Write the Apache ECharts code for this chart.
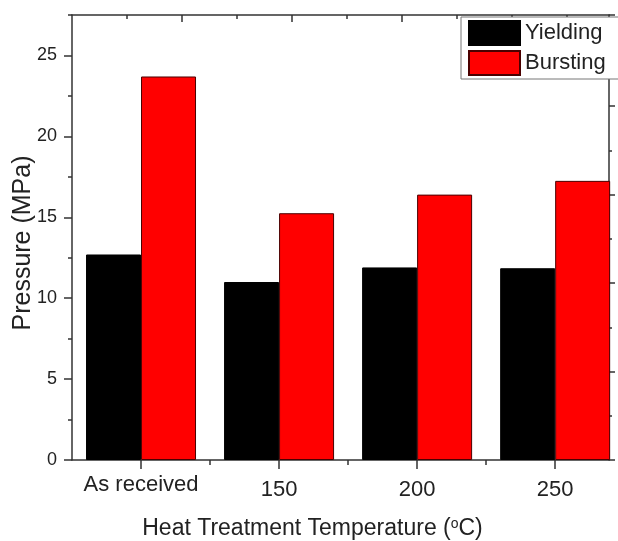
<!DOCTYPE html>
<html>
<head>
<meta charset="utf-8">
<title>Pressure vs heat treatment temperature</title>
<script src="https://cdn.jsdelivr.net/npm/echarts@6/dist/echarts.min.js"></script>
<style>
  html, body { margin: 0; padding: 0; background: #fff; }
  #chart { width: 618px; height: 541px; }
</style>
</head>
<body>
<div id="chart"></div>
<script>
// values (MPa)
const categories = ['As received', '150', '200', '250'];
const yielding = [12.7, 11.0, 11.9, 11.85];
const bursting = [23.7, 15.25, 16.4, 17.25];
const yTicks = [0, 5, 10, 15, 20, 25];

const font = '"Liberation Sans", Arial, sans-serif';
const ink = '#222';

// category i sits at x = i + 1 on the value axis
const positions = categories.map((c, i) => i + 1);
const betweenTicks = positions.slice(0, -1).map(p => p + 0.5);
const yMinorTicks = yTicks.map(v => v + 2.5);
// the top frame axis has no labels, only alternating ticks
const topLong = [1, 2, 3, 4];
const topShort = [0.5, 1.5, 2.5, 3.5, 4.5];

const line = { show: true, onZero: false, lineStyle: { color: '#333', width: 1.5 } };
const noLabel = { show: false };

const chart = echarts.init(document.getElementById('chart'));

chart.setOption({
  animation: false,
  textStyle: { fontFamily: font },
  grid: { left: 72, top: 15, width: 537, height: 445, containLabel: false, outerBoundsMode: 'none' },
  legend: {
    data: ['Yielding', 'Bursting'],
    orient: 'vertical',
    left: 461,
    top: 17,
    icon: 'rect',
    itemWidth: 51,
    itemHeight: 24,
    itemGap: 4,
    padding: [3, 30, 3, 7],
    backgroundColor: '#fff',
    borderColor: '#777',
    borderWidth: 1,
    textStyle: { fontSize: 22, color: ink, fontFamily: font }
  },
  xAxis: [
    {
      type: 'value',
      position: 'bottom',
      min: 0.5,
      max: 4.39,
      axisLine: line,
      splitLine: { show: false },
      axisTick: { customValues: positions, length: 9, lineStyle: { color: '#333', width: 1.5 } },
      axisLabel: {
        customValues: positions,
        // the numeric labels sit a little lower than "As received" in the figure
        formatter: v => {
          const i = Math.round(v) - 1;
          return i === 0 ? categories[i] : '{num|' + categories[i] + '}';
        },
        fontSize: 22,
        color: ink,
        margin: 14,
        rich: { num: { fontSize: 22, color: ink, padding: [5, 0, 0, 0] } }
      },
      name: 'Heat Treatment Temperature ({sup|o}C)',
      nameLocation: 'middle',
      nameGap: 57,
      nameMoveOverlap: false,
      nameTextStyle: {
        fontSize: 23,
        color: ink,
        padding: [0, 56, 0, 0],
        rich: { sup: { fontSize: 14, verticalAlign: 'top', color: ink } }
      }
    },
    {
      type: 'value',
      position: 'bottom',
      min: 0.5,
      max: 4.39,
      axisLine: { show: false, onZero: false },
      splitLine: { show: false },
      axisTick: { customValues: betweenTicks, length: 5, lineStyle: { color: '#333', width: 1.5 } },
      axisLabel: noLabel
    },
    {
      type: 'value',
      position: 'top',
      min: 0,
      max: 4.882,
      axisLine: line,
      splitLine: { show: false },
      axisTick: { inside: true, customValues: topLong, length: 7, lineStyle: { color: '#333', width: 1.5 } },
      axisLabel: noLabel
    },
    {
      type: 'value',
      position: 'top',
      min: 0,
      max: 4.882,
      axisLine: { show: false, onZero: false },
      splitLine: { show: false },
      axisTick: { inside: true, customValues: topShort, length: 4, lineStyle: { color: '#333', width: 1.5 } },
      axisLabel: noLabel
    }
  ],
  yAxis: [
    {
      type: 'value',
      position: 'left',
      min: 0,
      max: 27.5,
      axisLine: line,
      splitLine: { show: false },
      axisTick: { customValues: yTicks, length: 8, lineStyle: { color: '#333', width: 1.5 } },
      axisLabel: { customValues: yTicks, fontSize: 18, color: ink, margin: 15 },
      name: 'Pressure (MPa)',
      nameLocation: 'middle',
      nameGap: 36,
      nameMoveOverlap: false,
      nameTextStyle: { fontSize: 25, color: ink, padding: [0, 11, 0, 0] }
    },
    {
      type: 'value',
      position: 'left',
      min: 0,
      max: 27.5,
      axisLine: { show: false, onZero: false },
      splitLine: { show: false },
      axisTick: { customValues: yMinorTicks, length: 4, lineStyle: { color: '#333', width: 1.5 } },
      axisLabel: noLabel
    },
    {
      // right frame axis, its labels fall outside the picture
      type: 'value',
      position: 'right',
      min: 0,
      max: 5.03,
      interval: 1,
      axisLine: line,
      splitLine: { show: false },
      axisTick: { show: true, length: 6, lineStyle: { color: '#333', width: 1.5 } },
      minorTick: { show: true, splitNumber: 2, length: 3, lineStyle: { color: '#333', width: 1.5 } },
      axisLabel: noLabel
    }
  ],
  series: [
    {
      name: 'Yielding',
      type: 'bar',
      xAxisIndex: 0,
      yAxisIndex: 0,
      barWidth: 55,
      barGap: '0%',
      itemStyle: { color: '#000', borderColor: '#000', borderWidth: 1 },
      data: positions.map((p, i) => [p, yielding[i]])
    },
    {
      name: 'Bursting',
      type: 'bar',
      xAxisIndex: 0,
      yAxisIndex: 0,
      barWidth: 55,
      barGap: '0%',
      itemStyle: { color: '#ff0000', borderColor: '#4a0000', borderWidth: 1 },
      data: positions.map((p, i) => [p, bursting[i]])
    }
  ]
});
</script>
</body>
</html>
